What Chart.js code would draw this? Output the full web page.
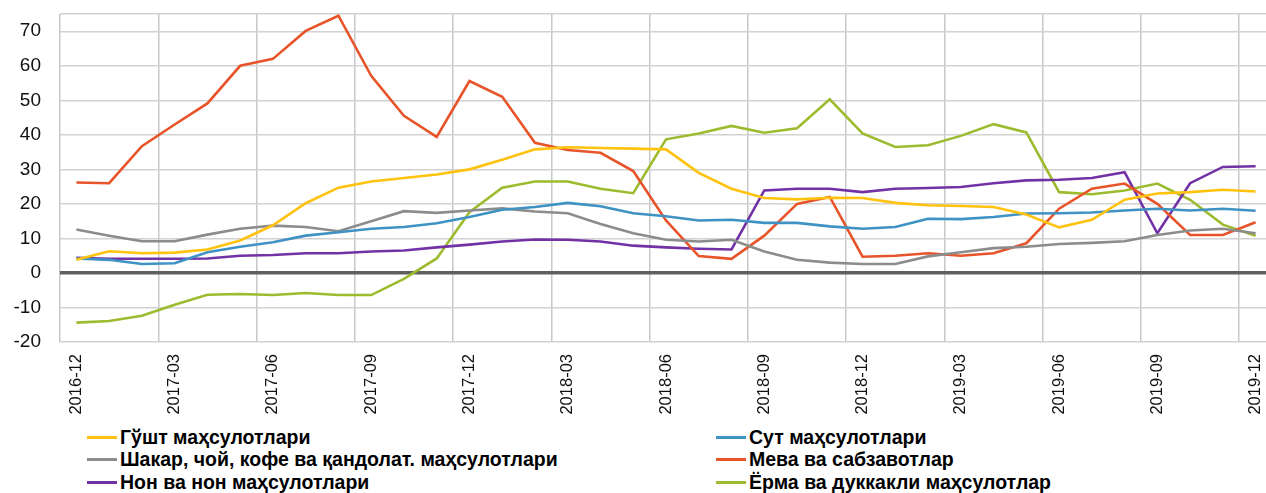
<!DOCTYPE html>
<html>
<head>
<meta charset="utf-8">
<script src="https://cdn.jsdelivr.net/npm/chart.js@4"></script>
<style>
    html, body { margin: 0; padding: 0; background: #fff; overflow: hidden; }
    #wrap { position: absolute; left: 0; top: 0; width: 1272px; height: 420px; }
    #legend {
        position: absolute; left: 87px; top: 426px;
        display: grid; grid-template-columns: 629px auto; row-gap: 0;
        font-family: 'Liberation Sans', Arial, sans-serif;
        font-weight: bold; font-size: 19.5px; color: #000;
    }
    .item { display: flex; align-items: center; height: 22.5px; white-space: nowrap; }
    .swatch { width: 30px; height: 3px; margin-right: 3px; }
</style>
</head>
<body>
<div id="wrap"><canvas id="c"></canvas></div>
<div id="legend"></div>
<script>
const FONT = "'Liberation Sans', Arial, sans-serif";

const months = [
    '2016-12', '2017-01', '2017-02', '2017-03', '2017-04', '2017-05', '2017-06', '2017-07', '2017-08', '2017-09',
    '2017-10', '2017-11', '2017-12', '2018-01', '2018-02', '2018-03', '2018-04', '2018-05', '2018-06', '2018-07',
    '2018-08', '2018-09', '2018-10', '2018-11', '2018-12', '2019-01', '2019-02', '2019-03', '2019-04', '2019-05',
    '2019-06', '2019-07', '2019-08', '2019-09', '2019-10', '2019-11', '2019-12'
];
const yTicks = [-20, -10, 0, 10, 20, 30, 40, 50, 60, 70];
const yMin = -20, yMax = 75;

// Гўшт маҳсулотлари
const meat = [3.8, 6.3, 5.7, 5.9, 6.8, 9.4, 13.8, 20.2, 24.7, 26.5, 27.5, 28.5, 30.0, 32.8, 35.8, 36.4, 36.2, 36.0, 35.8,
    29.0, 24.4, 21.7, 21.3, 21.8, 21.7, 20.3, 19.6, 19.4, 19.1, 16.9, 13.2, 15.4, 21.2, 23.0, 23.4, 24.1, 23.6];
// Сут маҳсулотлари
const milk = [4.2, 3.8, 2.6, 2.8, 6.0, 7.6, 8.9, 10.8, 11.8, 12.8, 13.3, 14.4, 16.2, 18.3, 19.1, 20.3, 19.3, 17.3, 16.4,
    15.2, 15.4, 14.5, 14.5, 13.5, 12.8, 13.3, 15.7, 15.6, 16.2, 17.2, 17.3, 17.5, 18.1, 18.6, 18.1, 18.6, 18.0];
// Шакар, чой, кофе ва қандолат. маҳсулотлари
const sugar = [12.6, 10.8, 9.2, 9.2, 11.1, 12.8, 13.7, 13.3, 12.1, 15.0, 17.9, 17.4, 18.1, 18.7, 17.8, 17.3, 14.2, 11.5, 9.6,
    9.1, 9.6, 6.2, 3.8, 3.0, 2.6, 2.6, 4.8, 6.0, 7.2, 7.6, 8.4, 8.7, 9.2, 11.0, 12.3, 12.8, 11.5];
// Мева ва сабзавотлар
const fruit = [26.2, 26.0, 36.7, 43.0, 49.1, 60.0, 62.0, 70.1, 74.5, 57.1, 45.5, 39.4, 55.6, 51.0, 37.7, 35.6, 34.8, 29.5, 15.2,
    4.9, 4.1, 10.8, 20.0, 22.0, 4.7, 5.0, 5.7, 5.0, 5.7, 8.6, 18.6, 24.4, 25.9, 20.0, 11.0, 11.0, 14.7];
// Нон ва нон маҳсулотлари
const bread = [4.4, 4.1, 4.1, 4.1, 4.2, 5.0, 5.2, 5.7, 5.7, 6.2, 6.5, 7.4, 8.2, 9.1, 9.7, 9.6, 9.1, 7.9, 7.4,
    7.0, 6.8, 23.9, 24.4, 24.4, 23.4, 24.4, 24.6, 24.9, 26.0, 26.8, 27.0, 27.5, 29.2, 11.5, 26.0, 30.7, 30.9];
// Ёрма ва дуккакли маҳсулотлар
const grain = [-14.4, -13.9, -12.4, -9.2, -6.3, -6.1, -6.4, -5.8, -6.4, -6.4, -1.7, 4.2, 17.6, 24.7, 26.5, 26.5, 24.4, 23.1, 38.7,
    40.4, 42.6, 40.6, 41.9, 50.3, 40.4, 36.5, 37.0, 39.7, 43.1, 40.7, 23.4, 22.8, 23.9, 25.9, 21.2, 14.0, 10.8];

const line = (label, data, color) => ({
    label, data, borderColor: color, backgroundColor: color,
    borderWidth: 2.6, pointRadius: 0, tension: 0, fill: false
});

const chart = new Chart(document.getElementById('c').getContext('2d'), {
    type: 'line',
    data: {
        labels: months,
        datasets: [
            line('Гўшт маҳсулотлари', meat, '#FFC20E'),
            line('Сут маҳсулотлари', milk, '#3F92C4'),
            line('Шакар, чой, кофе ва қандолат. маҳсулотлари', sugar, '#8C8C8C'),
            line('Мева ва сабзавотлар', fruit, '#E8542A'),
            line('Нон ва нон маҳсулотлари', bread, '#7232A6'),
            line('Ёрма ва дуккакли маҳсулотлар', grain, '#9DBB2E')
        ]
    },
    options: {
        animation: false, responsive: true, maintainAspectRatio: false,
        layout: { padding: { top: 14, right: 0, left: 0, bottom: 0 } },
        plugins: { legend: { display: false }, tooltip: { enabled: false } },
        scales: {
            x: {
                type: 'category', offset: true,
                border: { display: false },
                grid: {
                    offset: true, lineWidth: 1.5, drawTicks: false,
                    color: c => (c.index % 3 === 0 ? '#c8c8c8' : 'rgba(0,0,0,0)')
                },
                ticks: {
                    autoSkip: false, maxRotation: 90, minRotation: 90, padding: 12,
                    color: '#111', font: { family: FONT, size: 16.5 },
                    callback: (v, i) => (i % 3 === 0 ? months[i] : '')
                },
                afterFit: s => { s.height = 78; s.paddingLeft = 0; s.paddingRight = 0; }
            },
            y: {
                min: yMin, max: yMax,
                border: { display: false },
                grid: {
                    drawTicks: false,
                    color: c => (c.tick && c.tick.value === 0 ? '#5f5f5f' : '#d2d2d2'),
                    lineWidth: c => (c.tick && c.tick.value === 0 ? 3.5 : 1.5)
                },
                afterBuildTicks: s => {
                    s.ticks = yTicks.concat([yMax]).map(v => ({ value: v }));
                },
                ticks: {
                    padding: 19, color: '#111', font: { family: FONT, size: 19 },
                    callback: v => (yTicks.includes(v) ? v : '')
                },
                afterFit: s => { s.width = 60; s.paddingTop = 0; s.paddingBottom = 0; }
            }
        }
    }
});

// two-column legend built from the datasets
const lg = document.getElementById('legend');
chart.data.datasets.forEach(d => {
    const it = document.createElement('div');
    it.className = 'item';
    it.innerHTML = '<span class="swatch" style="background:' + d.borderColor + '"></span><span>' + d.label + '</span>';
    lg.appendChild(it);
});
</script>
</body>
</html>
